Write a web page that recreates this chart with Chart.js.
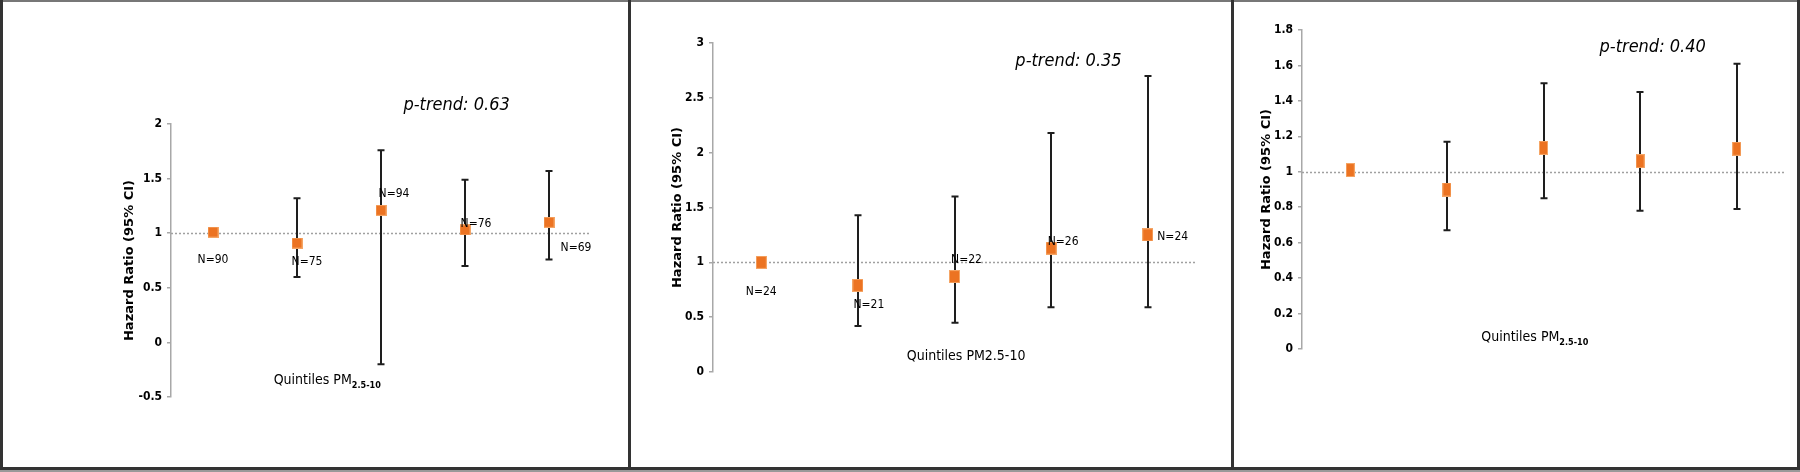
<!DOCTYPE html>
<html>
<head>
<meta charset="utf-8">
<script src="https://cdn.jsdelivr.net/npm/chart.js@4.4.1/dist/chart.umd.min.js"></script>
<style>
  html, body { margin: 0; padding: 0; background: #fff; }
  #frame { position: relative; width: 1800px; height: 472px; overflow: hidden; background: #fff; }
  .panel { position: absolute; top: 0; height: 472px; }
  .rule { position: absolute; background: #333; }
</style>
</head>
<body>
<div id="frame">
  <div class="panel" style="left:0;width:629px"><canvas id="chartA" width="629" height="472"></canvas></div>
  <div class="panel" style="left:629px;width:603px"><canvas id="chartB" width="603" height="472"></canvas></div>
  <div class="panel" style="left:1232px;width:568px"><canvas id="chartC" width="568" height="472"></canvas></div>

  <div class="rule" style="left:0;top:0;width:1800px;height:2px;background:#777"></div>
  <div class="rule" style="left:0;top:0;width:3px;height:470px"></div>
  <div class="rule" style="left:1797px;top:0;width:3px;height:470px"></div>
  <div class="rule" style="left:628px;top:0;width:3px;height:470px"></div>
  <div class="rule" style="left:1231px;top:0;width:3px;height:470px"></div>
  <div class="rule" style="left:0;top:467px;width:1800px;height:3px"></div>
  <div class="rule" style="left:0;top:470px;width:1800px;height:2px;background:#999"></div>
</div>
<script>
'use strict';

var quintiles = ['Q1', 'Q2', 'Q3', 'Q4', 'Q5'];

// left panel
var hrA = [1.01, 0.91, 1.21, 1.03, 1.10];
var loA = [null, 0.60, -0.20, 0.70, 0.76];
var hiA = [null, 1.32, 1.76, 1.49, 1.57];
var nA = ['N=90', 'N=75', 'N=94', 'N=76', 'N=69'];
var ticksA = [-0.5, 0, 0.5, 1, 1.5, 2];
var trendA = 'p-trend: 0.63';

// middle panel
var hrB = [1.00, 0.79, 0.87, 1.13, 1.25];
var loB = [null, 0.42, 0.45, 0.59, 0.59];
var hiB = [null, 1.43, 1.60, 2.18, 2.70];
var nB = ['N=24', 'N=21', 'N=22', 'N=26', 'N=24'];
var ticksB = [0, 0.5, 1, 1.5, 2, 2.5, 3];
var trendB = 'p-trend: 0.35';

// right panel
var hrC = [1.01, 0.90, 1.135, 1.06, 1.13];
var loC = [null, 0.67, 0.85, 0.78, 0.79];
var hiC = [null, 1.17, 1.50, 1.45, 1.61];
var nC = [];
var ticksC = [0, 0.2, 0.4, 0.6, 0.8, 1, 1.2, 1.4, 1.6, 1.8];
var trendC = 'p-trend: 0.40';

var yTitle = 'Hazard Ratio (95% CI)';
var xTitle = 'Quintiles PM';

var NARROW = '"Liberation Sans Narrow", "DejaVu Sans", sans-serif';

function marker(w, h) {
	var c = document.createElement('canvas');
	c.width = w;
	c.height = h;
	var g = c.getContext('2d');
	g.fillStyle = '#f5a565';
	g.fillRect(0, 0, w, h);
	g.fillStyle = '#ec7322';
	g.fillRect(1, 1, w - 2, h - 2);
	return c;
}

function extras(p) {
	return {
		id : 'hrExtras',
		beforeDatasetsDraw : function(chart) {
			var ctx = chart.ctx, x = chart.scales.x, y = chart.scales.y, area = chart.chartArea;
			ctx.save();
			// reference line at HR = 1
			var y1 = Math.round(y.getPixelForValue(1)) + 0.5;
			ctx.strokeStyle = '#a0a0a0';
			ctx.lineWidth = 1.5;
			ctx.setLineDash([2, 2]);
			ctx.beginPath();
			ctx.moveTo(area.left, y1);
			ctx.lineTo(area.right, y1);
			ctx.stroke();
			ctx.setLineDash([]);

			// confidence intervals
			ctx.strokeStyle = '#1e1e1e';
			ctx.lineWidth = 2;
			p.lo.forEach(function(lo, i) {
				if (lo === null) return;
				var px = Math.round(x.getPixelForValue(i));
				var top = y.getPixelForValue(p.hi[i]);
				var bot = y.getPixelForValue(lo);
				ctx.beginPath();
				ctx.moveTo(px, top); ctx.lineTo(px, bot);
				ctx.moveTo(px - 3.5, top); ctx.lineTo(px + 3.5, top);
				ctx.moveTo(px - 3.5, bot); ctx.lineTo(px + 3.5, bot);
				ctx.stroke();
			});
			ctx.restore();
		},
		afterDraw : function(chart) {
			var ctx = chart.ctx, x = chart.scales.x, y = chart.scales.y, area = chart.chartArea;
			ctx.save();
			ctx.fillStyle = '#000';
			ctx.textBaseline = 'middle';
			ctx.textAlign = 'center';

			// N labels
			ctx.font = 'condensed 12px ' + NARROW;
			p.n.forEach(function(t, i) {
				var off = p.nOff[i];
				ctx.fillText(t, x.getPixelForValue(i) + off[0], y.getPixelForValue(p.hr[i]) + off[1]);
			});

			// p-trend
			ctx.font = 'italic condensed 18px ' + NARROW;
			ctx.fillText(p.trend, x.getPixelForValue(p.trendAt[0]), y.getPixelForValue(p.trendAt[1]));

			// x title with optional subscript
			var tx = x.getPixelForValue(p.xTitleAt[0]), ty = y.getPixelForValue(p.xTitleAt[1]);
			var mainFont = 'condensed 14px ' + NARROW;
			var subFont = 'bold condensed 9px ' + NARROW;
			var main = p.sub ? xTitle : xTitle + '2.5-10';
			ctx.font = mainFont;
			var w1 = ctx.measureText(main).width;
			var w2 = 0;
			if (p.sub) {
				ctx.font = subFont;
				w2 = ctx.measureText('2.5-10').width;
			}
			var left = tx - (w1 + w2) / 2;
			ctx.textAlign = 'left';
			ctx.font = mainFont;
			ctx.fillText(main, left, ty);
			if (p.sub) {
				ctx.font = subFont;
				ctx.fillText('2.5-10', left + w1, ty + 5);
			}

			// y title
			ctx.translate(area.left + p.yTitleGap, (area.top + area.bottom) / 2);
			ctx.rotate(-Math.PI / 2);
			ctx.textAlign = 'center';
			ctx.font = 'bold 13px "DejaVu Sans", sans-serif';
			ctx.fillText(yTitle, 0, 0);
			ctx.restore();
		}
	};
}

function drawPanel(id, p) {
	return new Chart(document.getElementById(id), {
		type : 'line',
		data : {
			labels : quintiles,
			datasets : [{
				data : p.hr,
				showLine : false,
				pointStyle : marker(p.mw, p.mh),
				pointRadius : 6,
				pointHoverRadius : 6
			}]
		},
		options : {
			responsive : false,
			animation : false,
			devicePixelRatio : 1,
			layout : {
				padding : p.pad
			},
			plugins : {
				legend : { display : false },
				tooltip : { enabled : false }
			},
			scales : {
				x : {
					type : 'category',
					offset : true,
					display : false
				},
				y : {
					min : p.ticks[0],
					max : p.ticks[p.ticks.length - 1],
					afterFit : function(scale) { scale.width = 50; },
					afterBuildTicks : function(scale) {
						scale.ticks = p.ticks.map(function(v) { return { value : v }; });
					},
					grid : {
						drawOnChartArea : false,
						drawTicks : true,
						tickLength : 4,
						color : '#a8a8a8',
						lineWidth : 1.5
					},
					border : {
						color : '#a8a8a8',
						width : 1.5
					},
					ticks : {
						color : '#000',
						padding : 5,
						font : { family : NARROW, size : 12, weight : 'bold condensed' },
						callback : function(v) { return String(+v.toFixed(2)); }
					}
				}
			}
		},
		plugins : [extras(p)]
	});
}

drawPanel('chartA', {
	hr : hrA, lo : loA, hi : hiA, n : nA, ticks : ticksA, trend : trendA,
	nOff : [[0, 28], [10, 19], [13, -16], [11, -6], [27, 26]],
	trendAt : [2.9, 2.17], xTitleAt : [1.36, -0.35], sub : true, yTitleGap : -41,
	mw : 11, mh : 11,
	pad : { left : 121, right : 38, top : 124, bottom : 75 }
});

drawPanel('chartB', {
	hr : hrB, lo : loB, hi : hiB, n : nB, ticks : ticksB, trend : trendB,
	nOff : [[0, 30], [11, 20], [12, -17], [12, -6], [25, 2]],
	trendAt : [3.18, 2.83], xTitleAt : [2.12, 0.145], sub : false, yTitleGap : -35,
	mw : 11, mh : 13,
	pad : { left : 34, right : 36, top : 43, bottom : 100 }
});

drawPanel('chartC', {
	hr : hrC, lo : loC, hi : hiC, n : nC, ticks : ticksC, trend : trendC,
	nOff : [],
	trendAt : [3.13, 1.70], xTitleAt : [1.91, 0.065], sub : true, yTitleGap : -35,
	mw : 9, mh : 14,
	pad : { left : 20, right : 15, top : 30, bottom : 123 }
});
</script>
</body>
</html>
